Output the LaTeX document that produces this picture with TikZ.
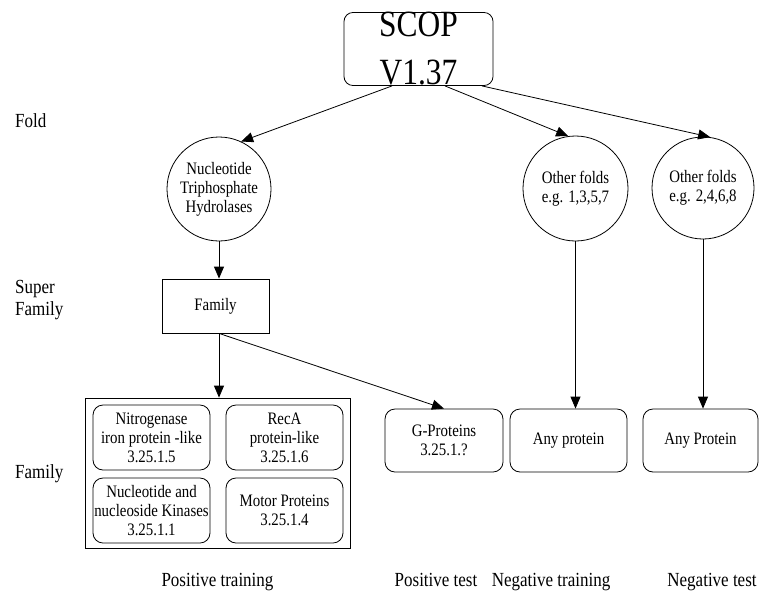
\documentclass[tikz,border=0pt]{standalone}
\usepackage{fontspec}
\setmainfont[FakeStretch=0.85]{Liberation Serif}
\usetikzlibrary{arrows.meta}
\begin{document}
\begin{tikzpicture}[x=1pt,y=-1pt,
  box/.style={draw, line width=0.8pt, align=center, inner sep=0pt, font=\fontsize{17.5}{19}\selectfont},
  rbox/.style={box, rounded corners=10pt},
  circ/.style={box, circle},
  arr/.style={-{Triangle[length=12pt,width=10pt]}, line width=0.8pt},
  lab/.style={font=\fontsize{20}{21}\selectfont, anchor=base west, inner sep=0pt},
  blab/.style={font=\fontsize{20}{21}\selectfont, anchor=base, inner sep=0pt}]
\useasboundingbox (0,0) rectangle (759,592);
\node[box, rounded corners=9pt, minimum width=149pt, minimum height=72pt, font=\fontsize{37}{48}\selectfont] (scop) at (418.5,49) {SCOP\\V1.37};
\node[circ, minimum size=104pt] (c1) at (219,189) {Nucleotide\\Triphosphate\\Hydrolases};
\node[circ, minimum size=105pt] (c2) at (575.5,188.5) {Other folds\\e.g. 1,3,5,7};
\node[circ, minimum size=102pt] (c3) at (703,188) {Other folds\\e.g. 2,4,6,8};
\node[box, minimum width=107pt, minimum height=54pt] (fam) at (215.5,306) {Family};
\node[draw, line width=0.8pt, minimum width=265pt, minimum height=150pt, inner sep=0pt] (big) at (217.5,473) {};
\node[rbox, minimum width=117pt, minimum height=65pt] (b1) at (151.5,437.5) {Nitrogenase\\iron protein -like\\3.25.1.5};
\node[rbox, minimum width=117pt, minimum height=65pt] (b2) at (284.5,437.5) {RecA\\protein-like\\3.25.1.6};
\node[rbox, minimum width=117pt, minimum height=65pt] (b3) at (151.5,510.5) {Nucleotide and\\nucleoside Kinases\\3.25.1.1};
\node[rbox, minimum width=117pt, minimum height=65pt] (b4) at (284.5,510.5) {Motor Proteins\\3.25.1.4};
\node[rbox, minimum width=118pt, minimum height=63pt] (gp) at (444,440.5) {G-Proteins\\3.25.1.?};
\node[rbox, minimum width=117pt, minimum height=63pt] (ap1) at (568.5,440.5) {Any protein};
\node[rbox, minimum width=115pt, minimum height=63pt] (ap2) at (700.5,440.5) {Any Protein};
\coordinate (fb) at (c1.south |- fam.south);
\draw[arr] ([xshift=-26.5pt]scop.south) -- (c1.65);
\draw[arr] ([xshift=26.5pt]scop.south) -- (c2.98);
\draw[arr] ([xshift=63.5pt]scop.south) -- (c3.82);
\draw[arr] (c1.south) -- (c1.south |- fam.north);
\draw[arr] (fb) -- (fb |- big.north);
\draw[arr] (fb) -- (gp.north);
\draw[arr] (c2.south) -- (c2.south |- ap1.north);
\draw[arr] (c3.south) -- (c3.south |- ap2.north);
\node[lab] (lfold) at (15,127) {Fold};
\node[lab] (lsup1) at (15,293) {Super};
\node[lab] (lsup2) at (15,315) {Family};
\node[lab] (lfam) at (15,478) {Family};
\node[blab] (p1) at (217.5,586) {Positive training};
\node[blab] (p2) at (436,586) {Positive test};
\node[blab] (p3) at (551,586) {Negative training};
\node[blab] (p4) at (712,586) {Negative test};
\end{tikzpicture}
\end{document}
